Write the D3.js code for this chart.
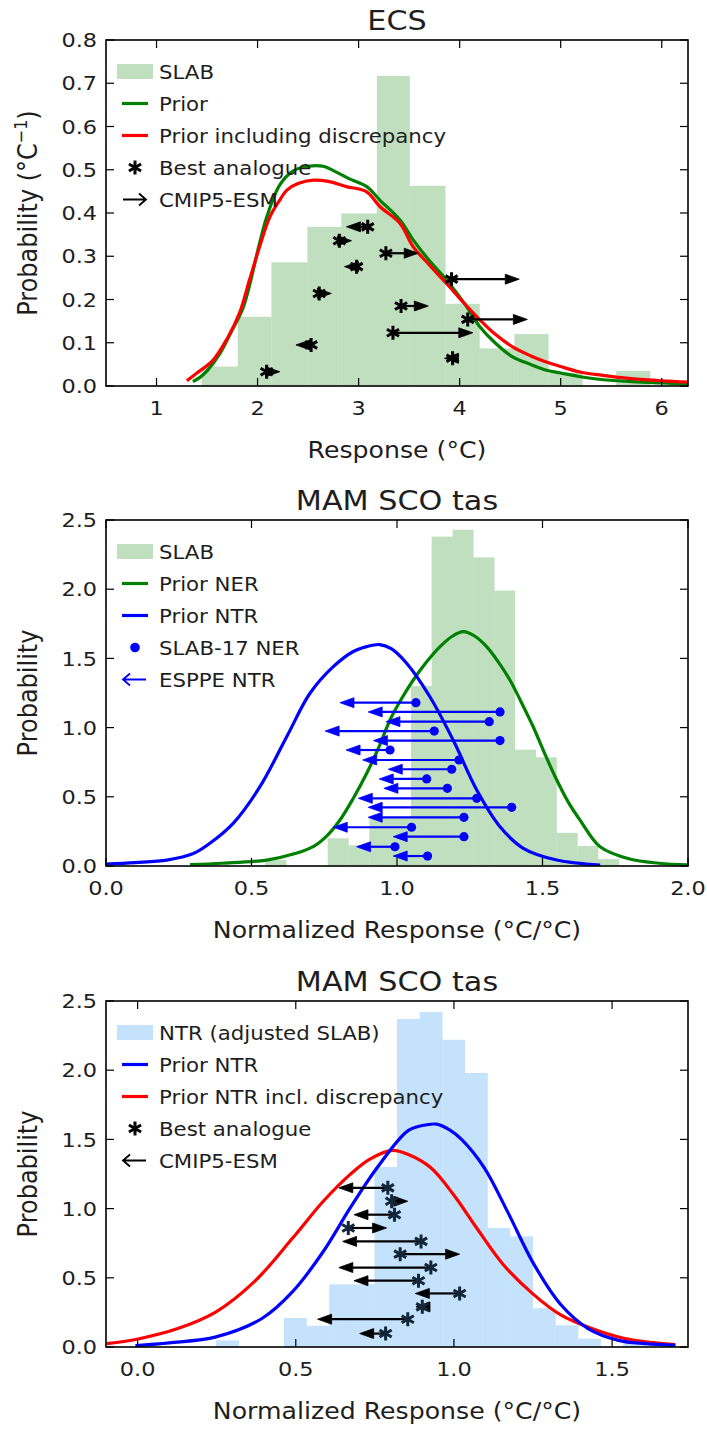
<!DOCTYPE html>
<html><head><meta charset="utf-8">
<script src="https://cdn.jsdelivr.net/npm/d3@7"></script>
<style>body{margin:0;background:#fff}text{font-family:"DejaVu Sans",sans-serif;fill:#1e1e1e}</style>
</head><body>
<script>
// ---------- DATA ----------
// Panel 1: ECS
const ecsHistEdges = [1.446, 1.804, 2.137, 2.493, 2.829, 3.181, 3.504, 3.857, 4.196, 4.542, 4.877, 5.213, 5.549, 5.885];
const ecsHistValues = [0.045, 0.160, 0.286, 0.368, 0.399, 0.717, 0.463, 0.190, 0.087, 0.120, 0.030, 0.0, 0.035];
const ecsPriorX = [1.36, 1.43, 1.5, 1.63, 1.75, 1.86, 2.02, 2.09, 2.22, 2.35, 2.5, 2.65, 2.75, 2.9, 3.08, 3.21, 3.41, 3.54, 3.7, 3.87, 4.05, 4.2, 4.35, 4.52, 4.7, 4.85, 5.0, 5.18, 5.4, 5.7, 6.0, 6.26];
const ecsPriorY = [0.01, 0.02, 0.035, 0.076, 0.13, 0.183, 0.33, 0.39, 0.465, 0.497, 0.508, 0.508, 0.498, 0.48, 0.461, 0.43, 0.384, 0.338, 0.29, 0.245, 0.19, 0.137, 0.1, 0.068, 0.05, 0.037, 0.03, 0.022, 0.015, 0.01, 0.007, 0.005];
const ecsDiscX = [1.30, 1.4, 1.56, 1.7, 1.82, 1.92, 2.02, 2.12, 2.22, 2.29, 2.4, 2.55, 2.7, 2.88, 3.08, 3.21, 3.41, 3.54, 3.7, 3.87, 4.05, 4.2, 4.35, 4.52, 4.7, 4.85, 5.0, 5.18, 5.4, 5.7, 6.0, 6.26];
const ecsDiscY = [0.012, 0.03, 0.06, 0.11, 0.168, 0.245, 0.322, 0.39, 0.43, 0.453, 0.468, 0.476, 0.473, 0.461, 0.449, 0.415, 0.376, 0.322, 0.28, 0.237, 0.19, 0.153, 0.12, 0.091, 0.07, 0.056, 0.045, 0.033, 0.025, 0.017, 0.012, 0.009];
const ecsAnalogue = [3.09, 2.81, 3.27, 2.98, 3.92, 2.61, 3.42, 4.08, 3.34, 2.53, 3.93, 2.09];
const ecsEsm      = [2.88, 2.93, 3.59, 2.86, 4.59, 2.73, 3.69, 4.67, 4.13, 2.38, 3.85, 2.22];
const ecsRowY     = [0.368, 0.336, 0.307, 0.276, 0.247, 0.214, 0.185, 0.154, 0.123, 0.095, 0.064, 0.033];
const ecsXTicks = [1, 2, 3, 4, 5, 6];
const ecsYTicks = [0, 0.1, 0.2, 0.3, 0.4, 0.5, 0.6, 0.7, 0.8];

// Panel 2: MAM SCO tas (NER / NTR)
const scoHistEdges = [0.547, 0.619, 0.690, 0.762, 0.833, 0.905, 0.976, 1.048, 1.119, 1.191, 1.262, 1.334, 1.405, 1.477, 1.548, 1.620, 1.691, 1.763];
const scoHistValues = [0.043, 0, 0, 0.2, 0.15, 0.35, 0.35, 1.3, 2.38, 2.43, 2.23, 1.99, 0.84, 0.785, 0.24, 0.145, 0.05];
const scoNerX = [0.289, 0.4, 0.552, 0.65, 0.712, 0.76, 0.804, 0.85, 0.896, 0.94, 0.976, 1.016, 1.056, 1.1, 1.148, 1.19, 1.228, 1.268, 1.308, 1.348, 1.388, 1.428, 1.468, 1.508, 1.549, 1.589, 1.629, 1.698, 1.8, 1.9, 2.0];
const scoNerY = [0.01, 0.02, 0.043, 0.09, 0.14, 0.22, 0.332, 0.49, 0.67, 0.87, 1.055, 1.21, 1.344, 1.47, 1.585, 1.66, 1.693, 1.66, 1.585, 1.475, 1.344, 1.18, 1.006, 0.81, 0.621, 0.46, 0.332, 0.139, 0.05, 0.02, 0.008];
const scoNtrX = [0.0, 0.1, 0.209, 0.3, 0.357, 0.437, 0.529, 0.621, 0.701, 0.781, 0.85, 0.896, 0.94, 0.98, 1.033, 1.113, 1.193, 1.274, 1.354, 1.434, 1.549, 1.698];
const scoNtrY = [0.014, 0.025, 0.043, 0.09, 0.164, 0.308, 0.573, 0.934, 1.248, 1.44, 1.55, 1.585, 1.6, 1.57, 1.465, 1.223, 0.91, 0.549, 0.284, 0.128, 0.043, 0.007];
const scoSlabNer = [1.065, 1.354, 1.317, 1.128, 1.354, 0.976, 1.213, 1.188, 1.102, 1.173, 1.274, 1.394, 1.230, 1.050, 1.230, 0.993, 1.105];
const scoEsppeNtr = [0.804, 0.901, 0.962, 0.753, 0.919, 0.825, 0.882, 0.970, 0.939, 0.955, 0.867, 0.901, 0.901, 0.781, 0.987, 0.861, 0.987];
const scoRowY = [1.18, 1.113, 1.043, 0.975, 0.906, 0.838, 0.766, 0.699, 0.629, 0.561, 0.489, 0.424, 0.352, 0.28, 0.212, 0.139, 0.072];
const scoXTicks = [0.0, 0.5, 1.0, 1.5, 2.0];
const probYTicks = [0.0, 0.5, 1.0, 1.5, 2.0, 2.5];

// Panel 3: MAM SCO tas (NTR adjusted)
const ntrHistEdges = [0.248, 0.3195, 0.391, 0.4625, 0.534, 0.6055, 0.677, 0.7485, 0.82, 0.8915, 0.963, 1.0345, 1.106, 1.1775, 1.249, 1.3205, 1.392, 1.4635, 1.535, 1.606];
const ntrHistValues = [0.048, 0, 0, 0.21, 0.153, 0.453, 0.453, 1.30, 2.37, 2.42, 2.22, 1.98, 0.86, 0.80, 0.28, 0.157, 0.06, 0, 0.036];
const ntrPriorX = [-0.007, 0.1, 0.248, 0.393, 0.49, 0.587, 0.672, 0.757, 0.854, 0.9, 0.945, 0.985, 1.024, 1.096, 1.169, 1.254, 1.339, 1.424, 1.52, 1.605, 1.70];
const ntrPriorY = [0.01, 0.03, 0.073, 0.206, 0.4, 0.69, 1.005, 1.295, 1.562, 1.6, 1.61, 1.57, 1.50, 1.295, 0.98, 0.593, 0.303, 0.133, 0.048, 0.024, 0.012];
const ntrDiscX = [-0.098, 0.005, 0.127, 0.248, 0.369, 0.49, 0.587, 0.672, 0.733, 0.805, 0.854, 0.927, 0.999, 1.072, 1.157, 1.254, 1.339, 1.436, 1.533, 1.63, 1.70];
const ntrDiscY = [0.024, 0.06, 0.133, 0.254, 0.472, 0.787, 1.053, 1.247, 1.356, 1.421, 1.392, 1.295, 1.10, 0.86, 0.593, 0.375, 0.23, 0.133, 0.065, 0.031, 0.017];
const ntrAnalogue = [0.791, 0.803, 0.812, 0.666, 0.896, 0.83, 0.927, 0.888, 1.018, 0.9, 0.854, 0.784];
const ntrEsm      = [0.636, 0.854, 0.684, 0.787, 0.648, 1.018, 0.636, 0.684, 0.878, 0.88, 0.569, 0.702];
const ntrRowY     = [1.15, 1.053, 0.956, 0.86, 0.763, 0.671, 0.574, 0.479, 0.387, 0.29, 0.201, 0.097];
const ntrXTicks = [0.0, 0.5, 1.0, 1.5];

// ---------- DRAWING ----------
const W = 707, H = 1429;
const SX = 1.12; // horizontal stretch of the lettering
const svg = d3.select("body").append("svg").attr("width", W).attr("height", H);
const L = 106, R = 688, PH = 346;
const C = {green: "#008000", red: "#ff0000", blue: "#0000ff", slab: "#bfdfbf", ntr: "#c4e2fb"};

function txt(g, x, y, s, size, anchor) {
  return g.append("text").attr("transform", `translate(${x},${y}) scale(${SX},1)`)
    .attr("text-anchor", anchor || "start").attr("font-size", size).text(s);
}

function panel(top, xdom, ydom) {
  const g = svg.append("g");
  const x = d3.scaleLinear().domain(xdom).range([L, R]);
  const y = d3.scaleLinear().domain(ydom).range([top + PH, top]);
  const clipId = "clip" + top;
  svg.append("clipPath").attr("id", clipId).append("rect")
    .attr("x", L).attr("y", top).attr("width", R - L).attr("height", PH);
  const inner = g.append("g").attr("clip-path", `url(#${clipId})`);
  return {g, inner, x, y, top};
}

function hist(p, edges, vals, color) {
  p.inner.selectAll(null).data(vals).enter().append("rect")
    .attr("x", (d, i) => p.x(edges[i]))
    .attr("width", (d, i) => p.x(edges[i + 1]) - p.x(edges[i]) + 0.3)
    .attr("y", d => p.y(d)).attr("height", d => p.y(0) - p.y(d))
    .attr("fill", color);
}

function curve(p, xs, ys, color) {
  const line = d3.line().x(d => p.x(d[0])).y(d => p.y(d[1])).curve(d3.curveCatmullRom.alpha(0.5));
  p.inner.append("path").datum(d3.zip(xs, ys)).attr("d", line)
    .attr("fill", "none").attr("stroke", color).attr("stroke-width", 3.2)
    .attr("stroke-linejoin", "round");
}

function arrows(p, x0s, x1s, ys, color, hl, hw) {
  x0s.forEach((x0v, i) => {
    const a = p.x(x0v), b = p.x(x1s[i]), yy = p.y(ys[i]);
    const s = b >= a ? 1 : -1;
    const base = b - s * hl;
    p.inner.append("line").attr("x1", a).attr("x2", base).attr("y1", yy).attr("y2", yy)
      .attr("stroke", color).attr("stroke-width", 2.2);
    p.inner.append("path")
      .attr("d", `M${b},${yy}L${base},${yy - hw}L${base},${yy + hw}Z`)
      .attr("fill", color).attr("stroke", color).attr("stroke-width", 0.8).attr("stroke-linejoin", "miter");
  });
}

function asteriskPath(cx, cy, r) {
  let d = "";
  for (let k = 0; k < 3; k++) {
    const ang = Math.PI / 2 + k * Math.PI / 3;
    const dx = r * Math.cos(ang), dy = r * Math.sin(ang);
    d += `M${cx - dx},${cy - dy}L${cx + dx},${cy + dy}`;
  }
  return d;
}

function asterisks(p, xs, ys, color) {
  xs.forEach((xv, i) => {
    p.inner.append("path").attr("d", asteriskPath(p.x(xv), p.y(ys[i]), 7))
      .attr("stroke", color).attr("stroke-width", 3).attr("stroke-linecap", "butt").attr("fill", "none");
  });
}

function dots(p, xs, ys, color) {
  p.inner.selectAll(null).data(xs).enter().append("circle")
    .attr("cx", d => p.x(d)).attr("cy", (d, i) => p.y(ys[i])).attr("r", 4.6).attr("fill", color);
}

function frame(p, xticks, yticks, xfmt, yfmt, title, xlabel, ylabelFn) {
  const g = p.g, x = p.x, y = p.y, top = p.top, bot = top + PH;
  const tl = 8;
  xticks.forEach(t => {
    const xx = x(t);
    g.append("line").attr("x1", xx).attr("x2", xx).attr("y1", bot).attr("y2", bot - tl).attr("stroke", "#000").attr("stroke-width", 1.2);
    g.append("line").attr("x1", xx).attr("x2", xx).attr("y1", top).attr("y2", top + tl).attr("stroke", "#000").attr("stroke-width", 1.2);
    txt(g, xx, bot + 29, xfmt(t), 20, "middle");
  });
  yticks.forEach(t => {
    const yy = y(t);
    g.append("line").attr("x1", L).attr("x2", L + tl).attr("y1", yy).attr("y2", yy).attr("stroke", "#000").attr("stroke-width", 1.2);
    g.append("line").attr("x1", R).attr("x2", R - tl).attr("y1", yy).attr("y2", yy).attr("stroke", "#000").attr("stroke-width", 1.2);
    txt(g, L - 9, yy + 7.2, yfmt(t), 20, "end");
  });
  g.append("rect").attr("x", L).attr("y", top).attr("width", R - L).attr("height", PH)
    .attr("fill", "none").attr("stroke", "#000").attr("stroke-width", 1.6);
  txt(g, (L + R) / 2, top - 10, title, 27, "middle");
  txt(g, (L + R) / 2, bot + 72, xlabel, 22.5, "middle");
  const yl = g.append("text").attr("transform", `translate(37,${top + PH / 2}) scale(${SX},1) rotate(-90)`)
    .attr("text-anchor", "middle").attr("font-size", 24);
  ylabelFn(yl);
}

function legend(p, items) {
  const g = p.g, top = p.top;
  items.forEach((it, i) => {
    const cy = top + 31.5 + i * 32;
    const hx0 = 117, hx1 = 153;
    if (it.type === "patch") {
      g.append("rect").attr("x", hx0).attr("y", cy - 7.5).attr("width", hx1 - hx0).attr("height", 15).attr("fill", it.color);
    } else if (it.type === "line") {
      g.append("line").attr("x1", 122).attr("x2", 148).attr("y1", cy).attr("y2", cy).attr("stroke", it.color).attr("stroke-width", 3.2);
    } else if (it.type === "asterisk") {
      g.append("path").attr("d", asteriskPath(135, cy, 7)).attr("stroke", "#000").attr("stroke-width", 3).attr("fill", "none");
    } else if (it.type === "dot") {
      g.append("circle").attr("cx", 135).attr("cy", cy).attr("r", 4.8).attr("fill", it.color);
    } else if (it.type === "arrowR" || it.type === "arrowL") {
      const s = it.type === "arrowR" ? 1 : -1;
      const a = s > 0 ? 123 : 146, b = s > 0 ? 146 : 123;
      g.append("path").attr("d", `M${a},${cy}L${b},${cy}M${b - s * 7},${cy - 6}L${b},${cy}L${b - s * 7},${cy + 6}`)
        .attr("stroke", it.color).attr("stroke-width", 1.8).attr("fill", "none");
    }
    txt(g, 159, cy + 7, it.label, 19);
  });
}

const f1 = d => d3.format(".1f")(d);
const f0 = d => d3.format("d")(d);

// Panel 1
const p1 = panel(40, [0.5, 6.26], [0, 0.8]);
hist(p1, ecsHistEdges, ecsHistValues, C.slab);
curve(p1, ecsPriorX, ecsPriorY, C.green);
curve(p1, ecsDiscX, ecsDiscY, C.red);
arrows(p1, ecsAnalogue, ecsEsm, ecsRowY, "#000", 14, 5);
asterisks(p1, ecsAnalogue, ecsRowY, "#000");
frame(p1, ecsXTicks, ecsYTicks, f0, f1, "ECS", "Response (°C)", t => {
  t.append("tspan").text("Probability (°C");
  t.append("tspan").attr("font-size", 16).attr("dy", -9).text("−1");
  t.append("tspan").attr("dy", 9).text(")");
});
legend(p1, [
  {type: "patch", color: C.slab, label: "SLAB"},
  {type: "line", color: C.green, label: "Prior"},
  {type: "line", color: C.red, label: "Prior including discrepancy"},
  {type: "asterisk", label: "Best analogue"},
  {type: "arrowR", color: "#000", label: "CMIP5-ESM"}
]);

// Panel 2
const p2 = panel(520, [0, 2], [0, 2.5]);
hist(p2, scoHistEdges, scoHistValues, C.slab);
curve(p2, scoNerX, scoNerY, C.green);
curve(p2, scoNtrX, scoNtrY, C.blue);
arrows(p2, scoSlabNer, scoEsppeNtr, scoRowY, C.blue, 14, 5);
dots(p2, scoSlabNer, scoRowY, C.blue);
frame(p2, scoXTicks, probYTicks, f1, f1, "MAM SCO tas", "Normalized Response (°C/°C)", t => t.text("Probability"));
legend(p2, [
  {type: "patch", color: C.slab, label: "SLAB"},
  {type: "line", color: C.green, label: "Prior NER"},
  {type: "line", color: C.blue, label: "Prior NTR"},
  {type: "dot", color: C.blue, label: "SLAB-17 NER"},
  {type: "arrowL", color: C.blue, label: "ESPPE NTR"}
]);

// Panel 3
const p3 = panel(1001, [-0.1, 1.74], [0, 2.5]);
hist(p3, ntrHistEdges, ntrHistValues, C.ntr);
curve(p3, ntrDiscX, ntrDiscY, C.red);
curve(p3, ntrPriorX, ntrPriorY, C.blue);
arrows(p3, ntrAnalogue, ntrEsm, ntrRowY, "#000", 14, 5);
asterisks(p3, ntrAnalogue, ntrRowY, "#14273a");
frame(p3, ntrXTicks, probYTicks, f1, f1, "MAM SCO tas", "Normalized Response (°C/°C)", t => t.text("Probability"));
legend(p3, [
  {type: "patch", color: C.ntr, label: "NTR (adjusted SLAB)"},
  {type: "line", color: C.blue, label: "Prior NTR"},
  {type: "line", color: C.red, label: "Prior NTR incl. discrepancy"},
  {type: "asterisk", label: "Best analogue"},
  {type: "arrowL", color: "#000", label: "CMIP5-ESM"}
]);
</script>
</body></html>
